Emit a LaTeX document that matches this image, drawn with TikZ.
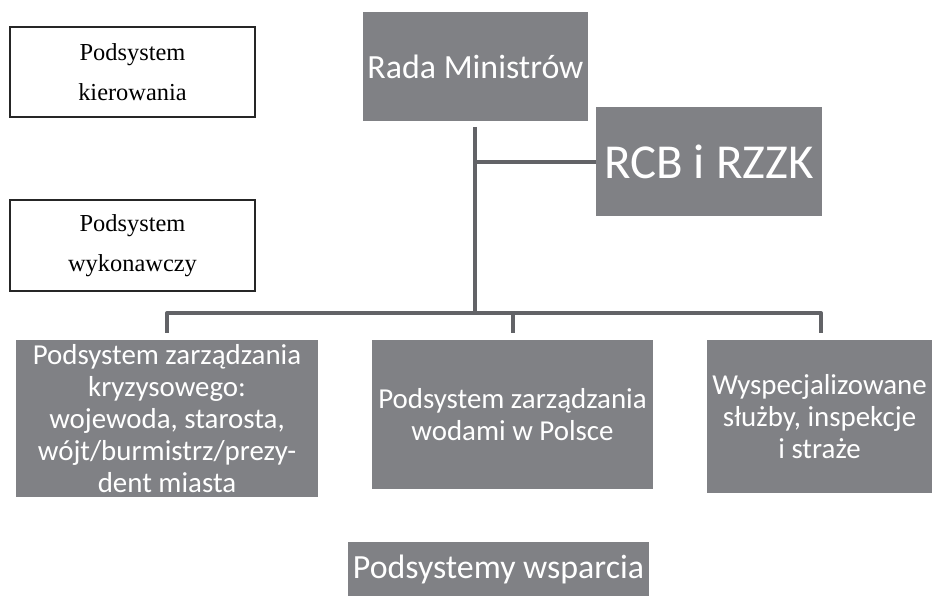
\documentclass[tikz,border=0pt]{standalone}
\usepackage{fontspec}
\setmainfont{Carlito}
\newfontfamily\serifbox{Liberation Serif}
\definecolor{boxgray}{RGB}{128,129,133}
\definecolor{linegray}{RGB}{98,99,103}
\begin{document}
\begin{tikzpicture}[x=1bp,y=-1bp,
  graybox/.style={fill=boxgray,draw=none,text=white,align=center,inner sep=0pt,
    font=\fontsize{29}{32}\selectfont},
  whitebox/.style={draw=black!85,line width=2bp,fill=white,align=center,inner sep=0pt,
    font=\serifbox\fontsize{24.5}{40}\selectfont},
  conn/.style={draw=linegray,line width=4bp}]
\useasboundingbox (0,0) rectangle (932,596);
% left white boxes
\node[whitebox,minimum width=245bp,minimum height=90bp] (kier) at (132.5,72) {Podsystem\\kierowania};
\node[whitebox,minimum width=245bp,minimum height=91bp] (wyk) at (132.5,245.5) {Podsystem\\wykonawczy};
% top gray boxes
\node[graybox,minimum width=225bp,minimum height=109bp,font=\fontsize{34}{40}\selectfont] (rada) at (475.5,66.5) {Rada Ministrów};
\node[graybox,minimum width=226bp,minimum height=109bp,font=\fontsize{49}{58}\selectfont] (rcb) at (709,161.5) {RCB i RZZK};
% bottom boxes
\node[graybox,minimum width=302bp,minimum height=157bp] (kryz) at (167,418.5) {Podsystem zarządzania\\kryzysowego:\\wojewoda, starosta,\\wójt/burmistrz/prezy-\\dent miasta};
\node[graybox,minimum width=281bp,minimum height=149bp] (wody) at (512.5,414.5) {Podsystem zarządzania\\wodami w Polsce};
\node[graybox,minimum width=225bp,minimum height=153bp] (sluz) at (819.5,416.5) {Wyspecjalizowane\\służby, inspekcje\\i straże};
\node[graybox,minimum width=301bp,minimum height=54bp,font=\fontsize{34}{40}\selectfont] (wsp) at (498.5,569) {Podsystemy wsparcia};
% connectors
\coordinate (top) at (475,127);
\coordinate (bus) at (475,313);
\coordinate (br) at (475,162);
\coordinate (bl) at (167,313);
\coordinate (bm) at (513,313);
\coordinate (brr) at (821,313);
\draw[conn] (top) -- (bus);
\draw[conn] (br) -- (br -| rcb.west);
\draw[conn,line join=round] (kryz.north -| bl) ++(0,-7) -- (bl) -- (brr) -- ++(0,20);
\draw[conn] (bm) -- ++(0,20);
\end{tikzpicture}
\end{document}
